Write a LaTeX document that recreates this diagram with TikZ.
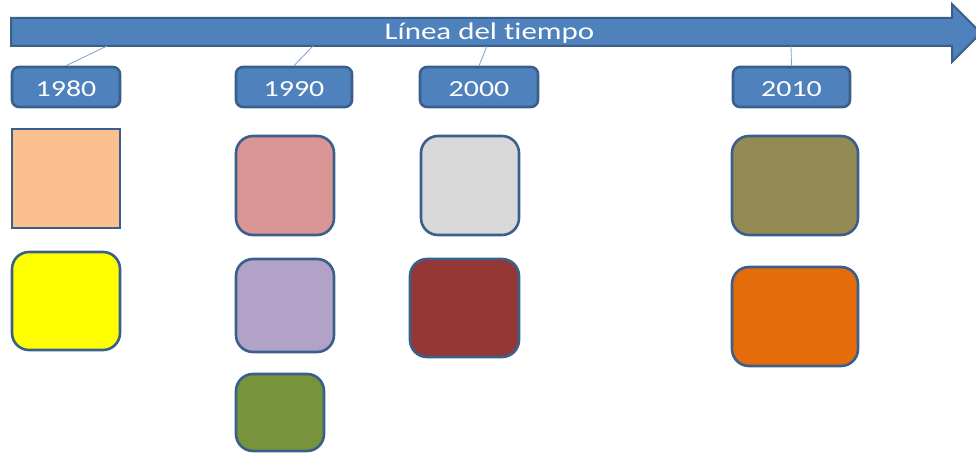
\documentclass[tikz,border=0pt]{standalone}
\usepackage{fontspec}
\setmainfont{Carlito}[Ligatures=NoCommon]
\definecolor{mainb}{HTML}{4F81BD}
\definecolor{bordc}{HTML}{3A5F8B}
\definecolor{connc}{HTML}{7A9FCB}
\definecolor{cpeach}{HTML}{FAC090}
\definecolor{cyellow}{HTML}{FFFF00}
\definecolor{cpink}{HTML}{D99694}
\definecolor{clav}{HTML}{B3A2C7}
\definecolor{cgreen}{HTML}{77933C}
\definecolor{cgray}{HTML}{D9D9D9}
\definecolor{cdred}{HTML}{953735}
\definecolor{colive}{HTML}{948A54}
\definecolor{corange}{HTML}{E46C0A}
\begin{document}
\begin{tikzpicture}[x=1pt,y=-1pt,
  yearbox/.style={draw=bordc,line width=2.6pt,fill=mainb,rounded corners=7pt,
    minimum height=40pt,inner sep=0pt,text=white,text height=18pt,text depth=0pt,
    font=\fontsize{23}{26}\selectfont},
  colbox/.style={draw=bordc,line width=2.6pt,rounded corners=17pt,inner sep=0pt},
  conn/.style={draw=connc,line width=0.8pt}]
\useasboundingbox (0,0) rectangle (976,452);
% arrow
\path[fill=mainb,draw=bordc,line width=2pt]
  (11,18) -- (952,18) -- (952,4) -- (981,33) -- (952,62) -- (952,46) -- (11,46) -- cycle;
\node[anchor=base,text=white,inner sep=0pt,font=\fontsize{24}{28}\selectfont] (title) at (489.5,39.5)
  {\scalebox{1.29}[1]{Línea del tiempo}};
\coordinate (a1) at (107,46);
\coordinate (a2) at (313,46);
\coordinate (a3) at (487,46);
\coordinate (a4) at (791,46);
% years
\node[yearbox,minimum width=108pt] (y1) at (66,87) {\scalebox{1.3}[1]{1980}};
\node[yearbox,minimum width=116pt] (y2) at (294,87) {\scalebox{1.3}[1]{1990}};
\node[yearbox,minimum width=118pt] (y3) at (479,87) {\scalebox{1.3}[1]{2000}};
\node[yearbox,minimum width=117pt] (y4) at (791.5,87) {\scalebox{1.3}[1]{2010}};
\draw[conn] (y1.north) -- (a1);
\draw[conn] (y2.north) -- (a2);
\draw[conn] (y3.north) -- (a3);
\draw[conn] (y4.north) -- (a4);
% colour boxes
\node[colbox,rounded corners=0pt,fill=cpeach,minimum width=108pt,minimum height=99pt] (b1) at (66,178.5) {};
\node[colbox,fill=cyellow,minimum width=108pt,minimum height=98pt] (b2) at (66,301) {};
\node[colbox,fill=cpink,minimum width=98pt,minimum height=99pt] (b3) at (285,185.5) {};
\node[colbox,fill=clav,minimum width=98pt,minimum height=93pt] (b4) at (285,305.5) {};
\node[colbox,fill=cgreen,minimum width=88pt,minimum height=77pt] (b5) at (280,412.5) {};
\node[colbox,fill=cgray,minimum width=98pt,minimum height=99pt] (b6) at (470,185.5) {};
\node[colbox,fill=cdred,minimum width=109pt,minimum height=98pt] (b7) at (464.5,308) {};
\node[colbox,fill=colive,minimum width=126pt,minimum height=99pt] (b8) at (795,185.5) {};
\node[colbox,fill=corange,minimum width=126pt,minimum height=99pt] (b9) at (795,316.5) {};
\end{tikzpicture}
\end{document}
